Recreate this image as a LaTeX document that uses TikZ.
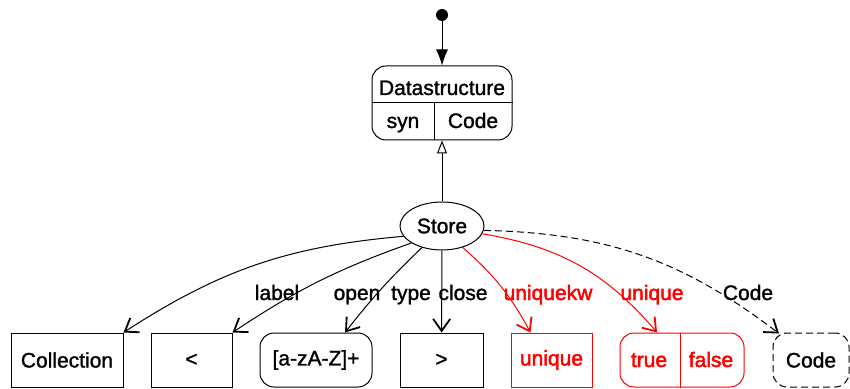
\documentclass[tikz,border=0pt]{standalone}
\usepackage{fontspec}
\setmainfont{Liberation Sans}
\newfontface\heavyface{Liberation Sans}[FakeBold=1.3]
\newfontface\redface{Liberation Sans}[FakeBold=2.2]
\usetikzlibrary{arrows.meta,shapes.geometric}
\begin{document}
\begin{tikzpicture}[x=1pt, y=1pt,
  font=\fontsize{21}{25}\heavyface,
  line width=1pt,
  box/.style={draw, minimum height=54pt, inner sep=0pt},
  rbox/.style={box, rounded corners=14pt},
  hot/.style={red, font=\fontsize{21}{25}\redface},
  edge/.style={-{Straight Barb[length=12pt,width=17pt,line width=1.8pt]}},
  dsh/.style={dash pattern=on 7pt off 4pt},
  lbl/.style={anchor=base, inner sep=0pt},
  txt/.style={anchor=base, inner sep=0pt}]
\useasboundingbox (0,0) rectangle (850,388);

% initial state
\node[circle, fill, minimum size=12pt, inner sep=0pt] (start) at (442,373) {};

% composite root
\node[draw, rounded corners=14pt, minimum width=140pt, minimum height=74pt, inner sep=0pt] (ds) at (442,285) {};
\draw (ds.west) -- (ds.east);
\draw ([xshift=-8pt]ds.center) -- ([xshift=-8pt]ds.south);
\node[txt] (dsname) at (442,293) {Datastructure};
\node[txt] (dssyn) at (403,260) {syn};
\node[txt] (dscode) at (473,260) {Code};

% central node
\node[draw, ellipse, minimum width=84pt, minimum height=48pt, inner sep=0pt] (store) at (442,162) {Store};

% children
\node[box, minimum width=112pt] (coll) at (67,28) {Collection};
\node[box, minimum width=81pt] (lt) at (191.5,28) {<};
\node[rbox, minimum width=112pt] (regex) at (316,28) {[a-zA-Z]+};
\node[box, minimum width=83pt] (gt) at (441.5,28) {>};
\node[box, hot, minimum width=81pt] (uniq) at (551.5,28) {unique};
\node[rbox, red, minimum width=124pt] (tf) at (682,28) {};
\draw[red] ([xshift=-2pt]tf.north) -- ([xshift=-2pt]tf.south);
\node[txt, hot] (tftrue) at (649,21) {true};
\node[txt, hot] (tffalse) at (711,21) {false};
\node[rbox, dsh, minimum width=76pt] (code) at (811,28) {Code};

% connectors
\draw[-{Latex[length=16pt,width=12pt]}] (start) -- (ds);
\draw[-{Triangle[open,length=13pt,width=10pt]}] (store) -- (ds);

\draw[edge] (store.195) to[bend right=14] (coll.north east);
\draw[edge] (store.209) to[bend right=7] (lt.north east);
\draw[edge] (store.227) to[bend right=4] ([xshift=29pt]regex.north);
\draw[edge] (store) -- (gt);
\draw[edge, red] (store.314) to[bend left=10] ([xshift=-21pt]uniq.north);
\draw[edge, red] (store.349) to[bend left=20] ([xshift=-25pt]tf.north);
\draw[edge, dsh] (store.354) to[bend left=18] ([xshift=-32pt,yshift=-1pt]code.north);

% edge labels
\node[lbl] (l1) at (277,88) {label};
\node[lbl] (l2) at (357,88) {open};
\node[lbl] (l3) at (411,88) {type};
\node[lbl] (l4) at (463,88) {close};
\node[lbl, hot] (l5) at (548,88) {uniquekw};
\node[lbl, hot] (l6) at (652,88) {unique};
\node[lbl] (l7) at (748,88) {Code};
\end{tikzpicture}
\end{document}
